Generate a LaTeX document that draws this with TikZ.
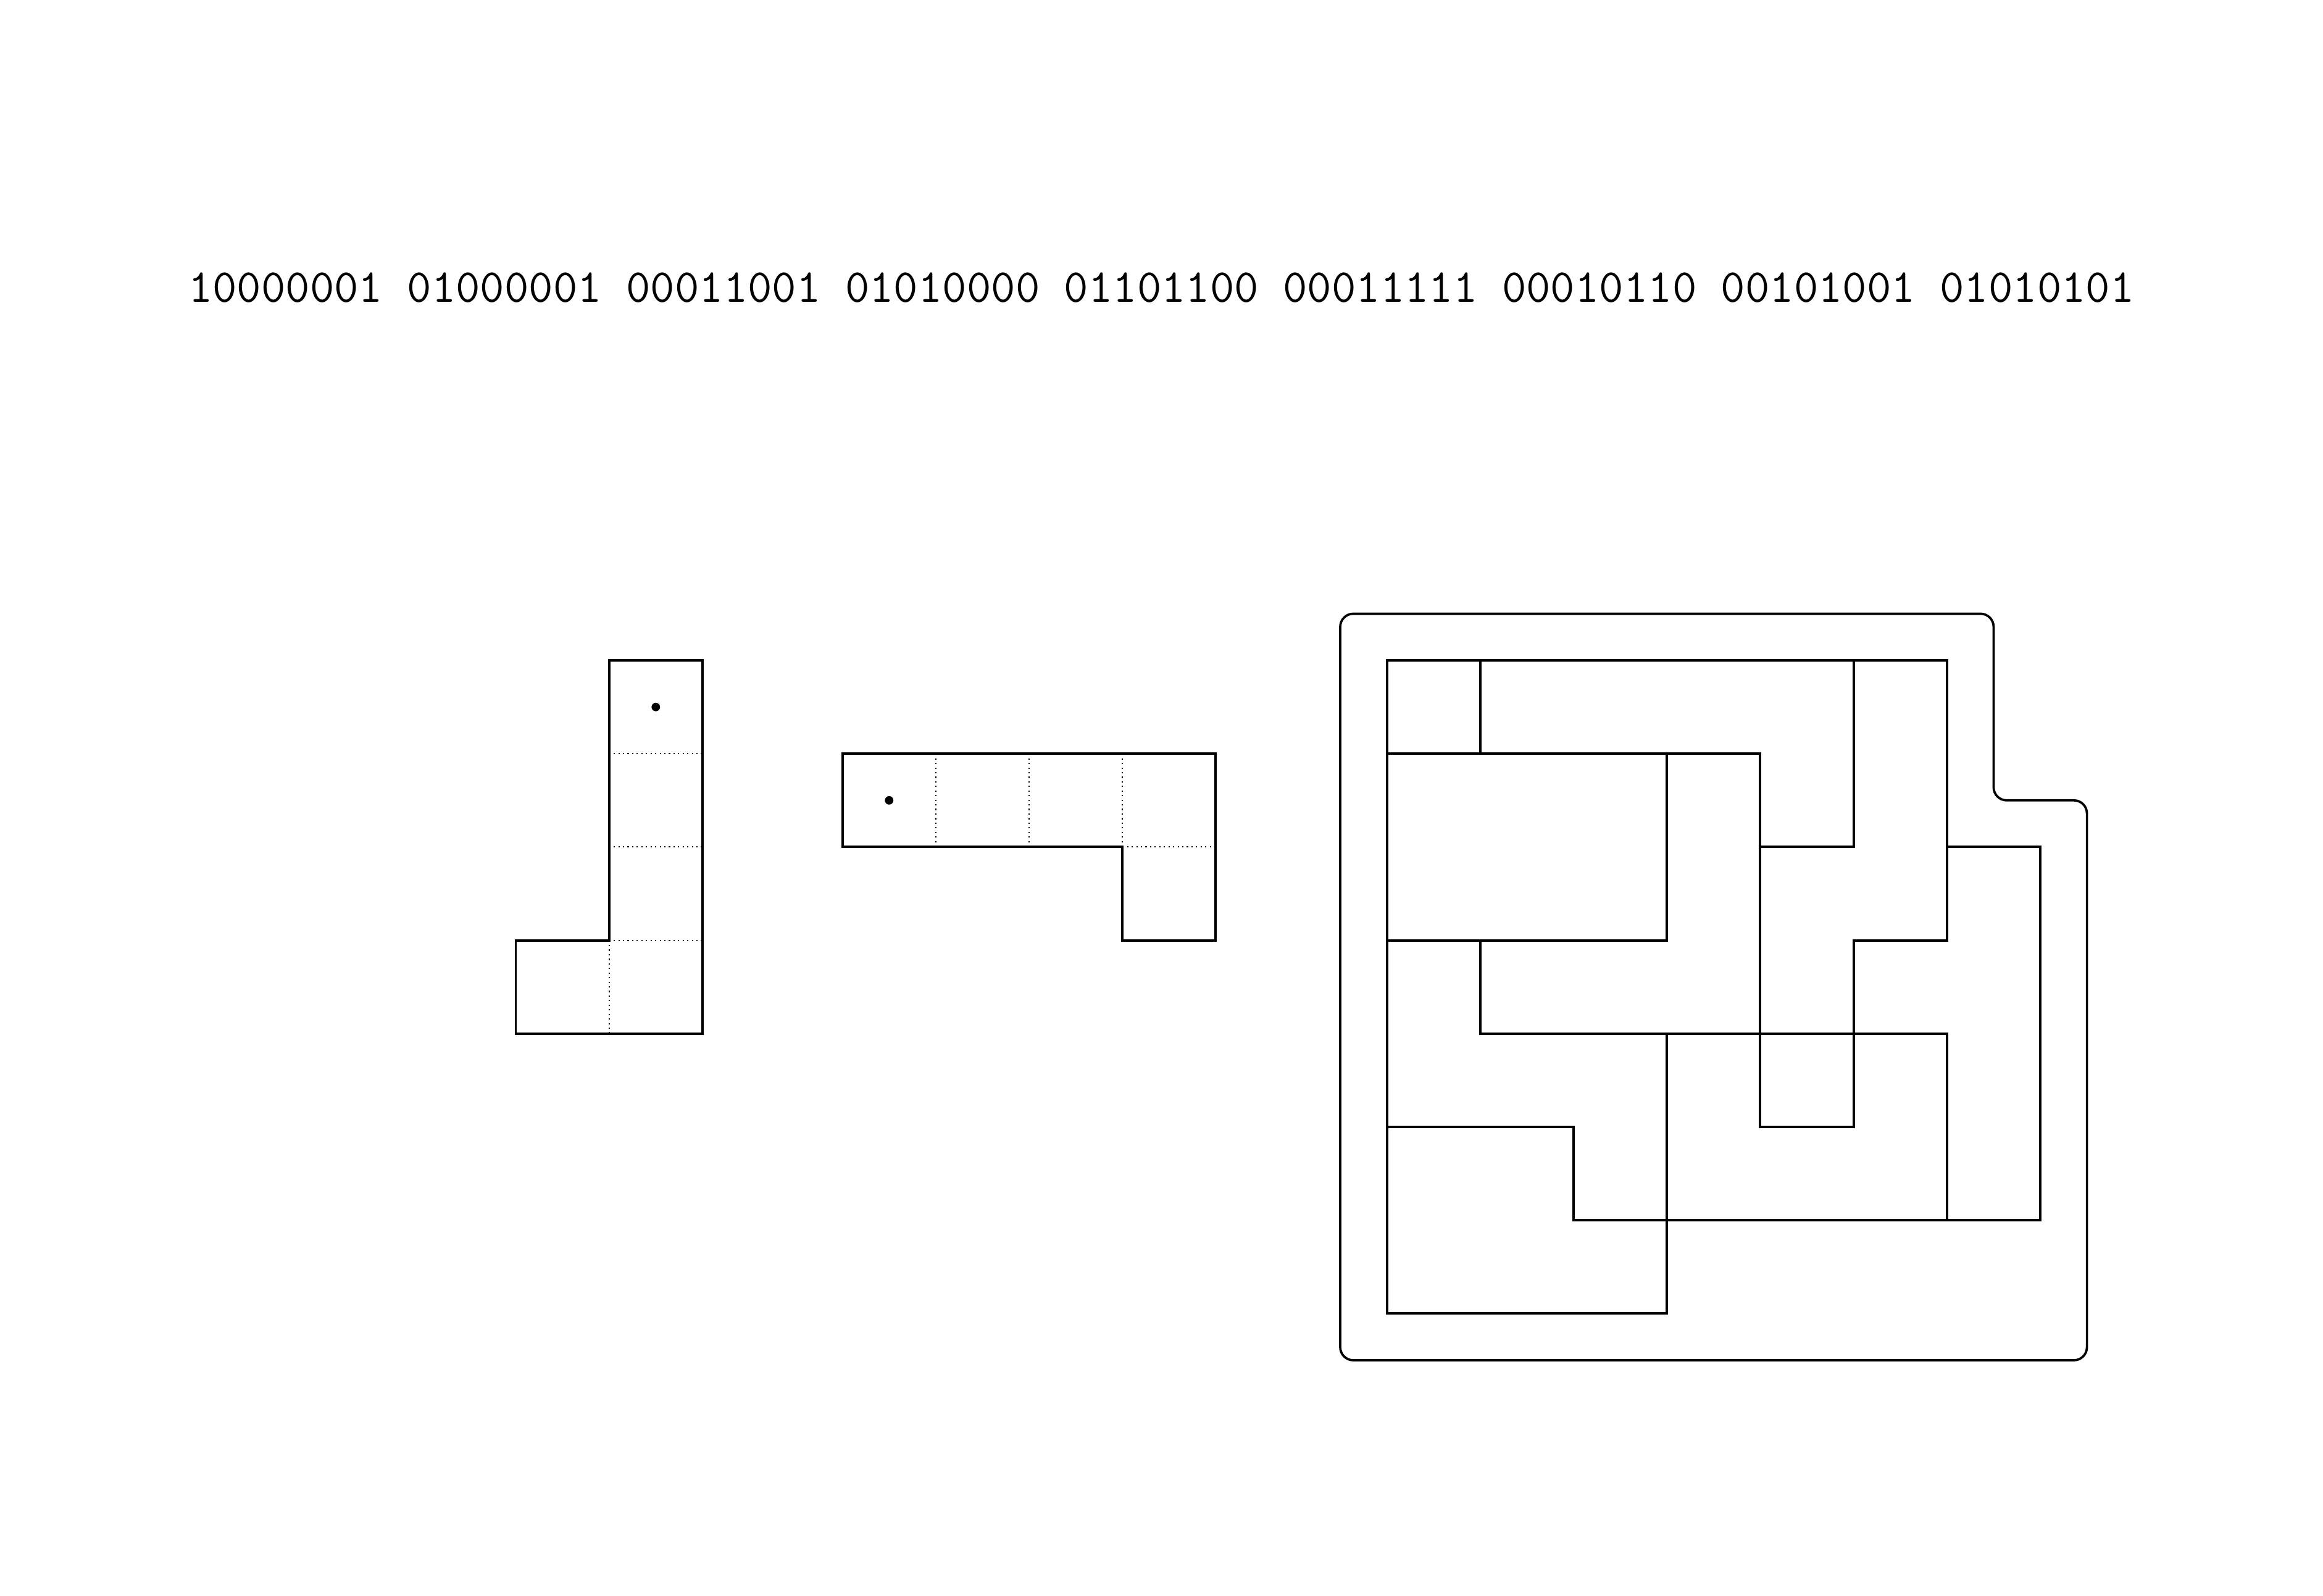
\documentclass[tikz,border=0pt]{standalone}
\usepackage{tikz}

\begin{document}
\begin{tikzpicture}[piece/.style={line width=0.75pt},
    fold/.style={line width=0.4pt, densely dotted},
    board/.style={line width=0.7pt, rounded corners=0.14cm}]
\useasboundingbox (-14.859,7.077) rectangle (10.029,-10.026);

\node[anchor=base, font=\fontsize{14.4}{17}\selectfont\ttfamily] (code) at (-2.415,3.84)
  {10000001 01000001 00011001 01010000 01101100 00011111 00010110 00101001 01010101};

% upright piece
\begin{scope}[shift={(-9.333,0)}]
  \foreach \y in {-1,-2,-3}
    \draw[fold] (1,\y) -- (2,\y);
  \draw[fold] (1,-3) -- (1,-4);
  \draw[piece] (1,0) -- (2,0) -- (2,-4) -- (0,-4) -- (0,-3) -- (1,-3) -- cycle;
  \fill (1.5,-0.5) circle (1.3pt);
\end{scope}

% lying piece
\begin{scope}[shift={(-5.833,-1)}]
  \foreach \x in {1,2,3}
    \draw[fold] (\x,0) -- (\x,-1);
  \draw[fold] (3,-1) -- (4,-1);
  \draw[piece] (0,0) -- (4,0) -- (4,-2) -- (3,-2) -- (3,-1) -- (0,-1) -- cycle;
  \fill (0.5,-0.5) circle (1.3pt);
\end{scope}

% board
\draw[board] (-0.5,0.5) -- (6.5,0.5) -- (6.5,-1.5) -- (7.5,-1.5) -- (7.5,-7.5) -- (-0.5,-7.5) -- cycle;
\begin{scope}[piece]
  \draw (0,0) rectangle (1,-1);
  \draw (1,0) -- (5,0) -- (5,-2) -- (4,-2) -- (4,-1) -- (1,-1) -- cycle;
  \draw (0,-1) rectangle (3,-3);
  \draw (3,-1) -- (4,-1) -- (4,-4) -- (1,-4) -- (1,-3) -- (3,-3) -- cycle;
  \draw (5,0) -- (6,0) -- (6,-3) -- (5,-3) -- (5,-4) -- (4,-4) -- (4,-2) -- (5,-2) -- cycle;
  \draw (6,-2) -- (7,-2) -- (7,-6) -- (6,-6) -- (6,-4) -- (5,-4) -- (5,-3) -- (6,-3) -- cycle;
  \draw (0,-3) -- (1,-3) -- (1,-4) -- (3,-4) -- (3,-6) -- (2,-6) -- (2,-5) -- (0,-5) -- cycle;
  \draw (0,-5) -- (2,-5) -- (2,-6) -- (3,-6) -- (3,-7) -- (0,-7) -- cycle;
  \draw (3,-4) -- (4,-4) -- (4,-5) -- (5,-5) -- (5,-4) -- (6,-4) -- (6,-6) -- (3,-6) -- cycle;
\end{scope}
\end{tikzpicture}
\end{document}
